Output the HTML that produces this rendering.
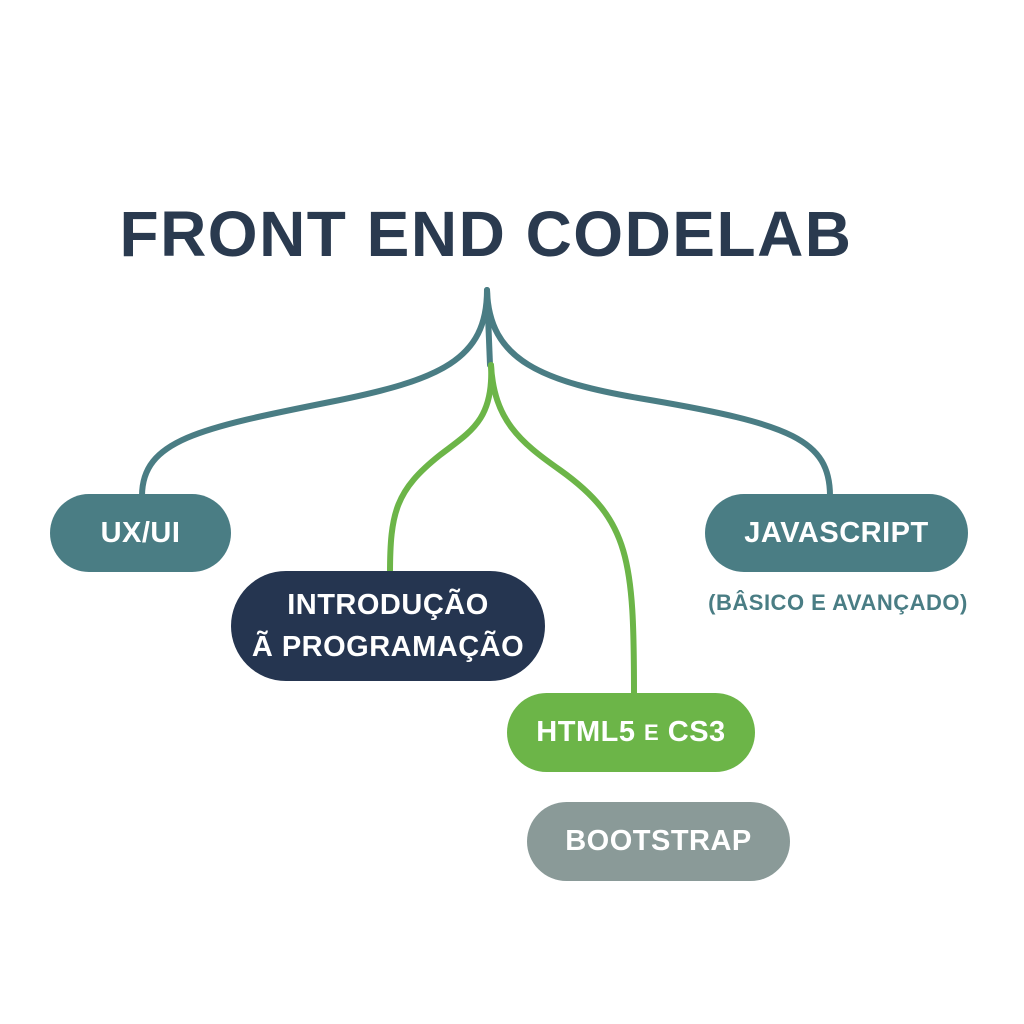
<!DOCTYPE html>
<html><head><meta charset="utf-8"><style>
html,body{margin:0;padding:0;background:#fff;}
body{width:1024px;height:1024px;position:relative;overflow:hidden;font-family:"Liberation Sans","DejaVu Sans",sans-serif;}
.t{position:absolute;left:-26px;top:197px;width:1024px;text-align:center;font-size:64px;font-weight:bold;color:#2a3a4f;letter-spacing:1.5px;}
.n{position:absolute;color:#fff;font-weight:bold;display:flex;align-items:center;justify-content:center;text-align:center;border-radius:40px;font-size:29px;letter-spacing:0.5px;}
</style></head><body>
<svg width="1024" height="1024" style="position:absolute;left:0;top:0">
<g fill="none" stroke-width="6" stroke-linecap="round">
<path d="M487,290 C487,360 440,380 330,402 C200,428 142,440 142,496" stroke="#4a7d84"/>
<path d="M487,290 C489,360 540,382 650,400 C790,424 830,440 830,496" stroke="#4a7d84"/>
<path d="M487,290 L490,365" stroke="#4a7d84"/>
<path d="M491,365 C494,420 470,432 440,455 C396,490 390,512 390,574" stroke="#6cb548"/>
<path d="M491,365 C494,420 520,442 560,470 C630,520 634,560 634,695" stroke="#6cb548"/>
</g></svg>
<div class="t">FRONT END CODELAB</div>
<div class="n" style="left:50px;top:494px;width:181px;height:78px;background:#4a7d84">UX/UI</div>
<div class="n" style="left:231px;top:571px;width:314px;height:110px;background:#253550;border-radius:55px;line-height:42px">INTRODUÇÃO<br>Ã PROGRAMAÇÃO</div>
<div class="n" style="left:705px;top:494px;width:263px;height:78px;background:#4a7d84">JAVASCRIPT</div>
<div style="position:absolute;left:690px;top:590px;width:296px;text-align:center;color:#4a7d84;font-size:22px;font-weight:bold;letter-spacing:0.5px">(BÂSICO E AVANÇADO)</div>
<div class="n" style="left:507px;top:693px;width:248px;height:79px;background:#6cb548">HTML5&nbsp;<span style="font-size:22px">E</span>&nbsp;CS3</div>
<div class="n" style="left:527px;top:802px;width:263px;height:79px;background:#8a9a98">BOOTSTRAP</div>
</body></html>
